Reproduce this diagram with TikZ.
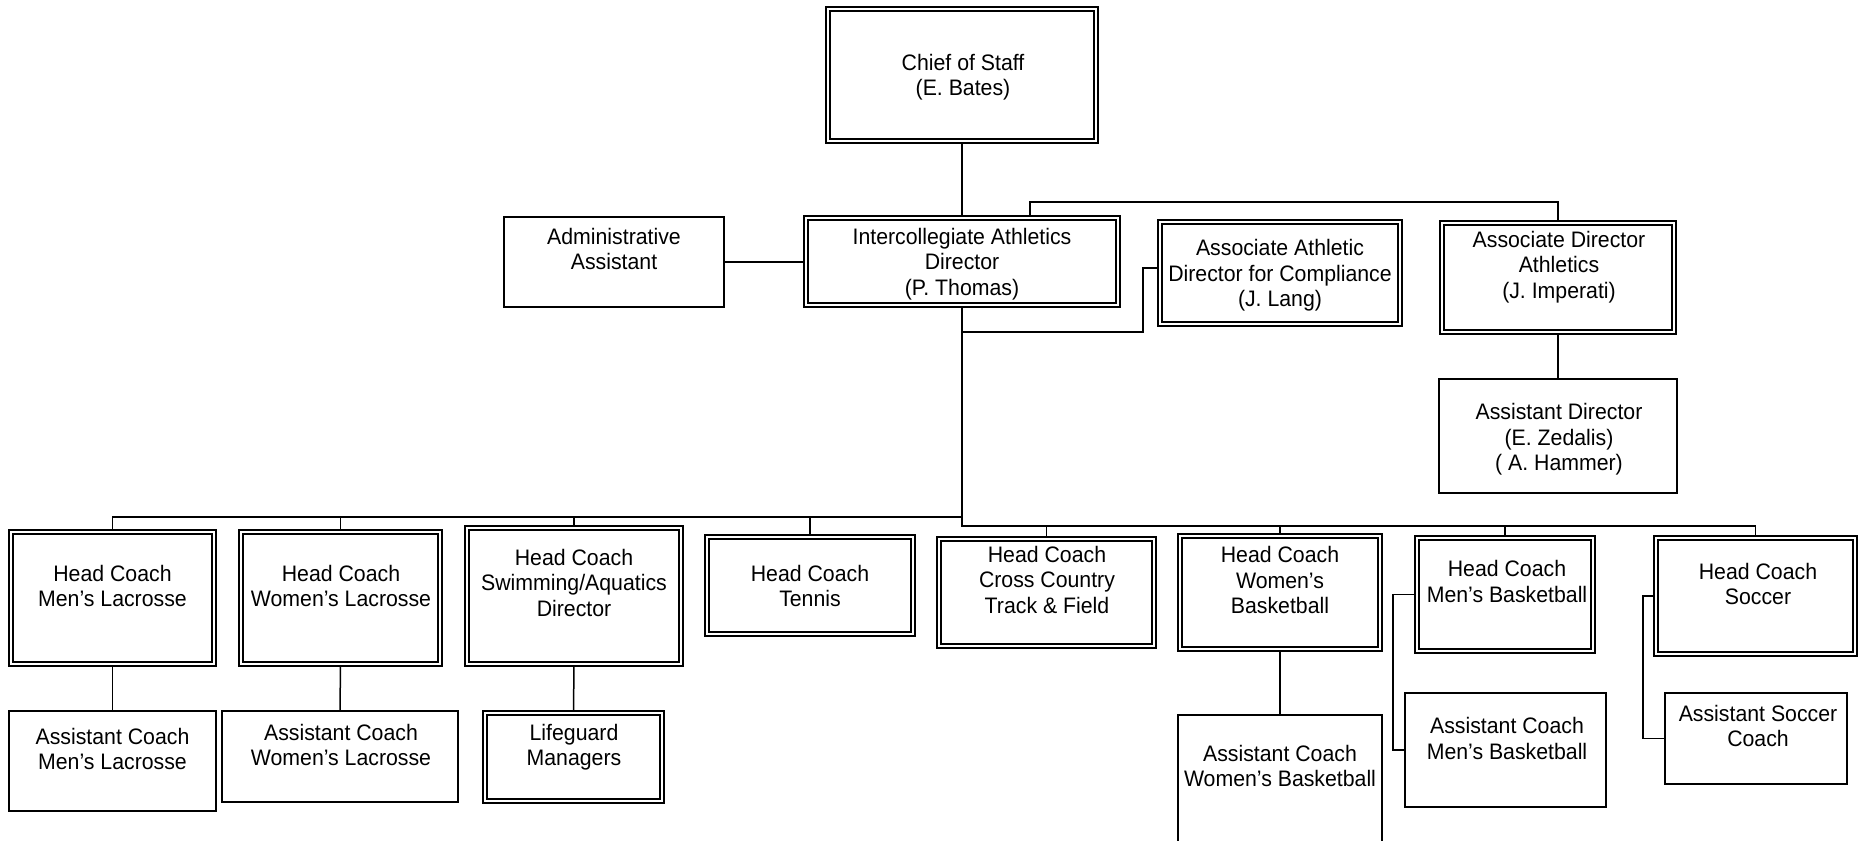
\documentclass[tikz,border=0pt]{standalone}
\usepackage{fontspec}
\setmainfont{Liberation Sans}[FakeStretch=0.95]
\usetikzlibrary{backgrounds}
\lineskiplimit=-\maxdimen
\newcommand\st{\rule[-3pt]{0pt}{14pt}}
\newcommand\dblbx[5]{\node[dblbox, minimum width={(#4-#2-4)*0.5pt}, minimum height={(#5-#3-4)*0.5pt}] (#1) at ({(#2+#4)/2},{(#3+#5)/2}) {};}
\newcommand\sglbx[5]{\node[sglbox, minimum width={(#4-#2)*0.5pt}, minimum height={(#5-#3)*0.5pt}] (#1) at ({(#2+#4)/2},{(#3+#5)/2}) {};}
\newcommand\boxtext[4]{\node[lbl] (#1) at (#2,#3) {#4};}
\begin{document}
\begin{tikzpicture}[x=0.5pt,y=-0.5pt,
  dblbox/.style={draw, double, double distance=1.4pt, line width=0.6pt, inner sep=0pt, outer sep=0pt, rectangle},
  sglbox/.style={draw, line width=0.75pt, inner sep=0pt, outer sep=0pt, rectangle},
  lbl/.style={align=center, inner sep=0pt, font=\fontsize{11.2pt}{12.75pt}\selectfont},
  conn/.style={line width=0.75pt}]
\clip (0,0) rectangle (1860,841);
% boxes
\dblbx{chief}{826}{7}{1098}{143}
\sglbx{admin}{504}{217}{724}{307}
\dblbx{iad}{804}{216}{1120}{307}
\dblbx{comp}{1158}{220}{1402}{326}
\dblbx{ada}{1440}{221}{1676}{334}
\sglbx{asd}{1439}{379}{1677}{493}
\dblbx{hcml}{9}{530}{216}{666}
\sglbx{acml}{9}{711}{216}{811}
\dblbx{hcwl}{239}{530}{442}{666}
\sglbx{acwl}{222}{711}{458}{802}
\dblbx{hcsw}{465}{526}{683}{666}
\dblbx{lg}{483}{711}{664}{803}
\dblbx{hct}{705}{535}{915}{636}
\dblbx{hccc}{937}{537}{1156}{648}
\dblbx{hcwb}{1178}{534}{1382}{651}
\sglbx{acwb}{1178}{715}{1382}{900}
\dblbx{hcmb}{1415}{536}{1595}{653}
\sglbx{acmb}{1405}{693}{1606}{807}
\dblbx{hcs}{1654}{536}{1857}{656}
\sglbx{acs}{1665}{693}{1847}{784}
% texts
\boxtext{chief-t}{963}{75}{Chief of Staff\st\\(E. Bates)\st}
\boxtext{admin-t}{614}{249}{Administrative\st\\Assistant\st}
\boxtext{iad-t}{962}{261.5}{Intercollegiate Athletics\st\\Director\st\\(P. Thomas)\st}
\boxtext{comp-t}{1280}{273}{Associate Athletic\st\\Director for Compliance\st\\(J. Lang)\st}
\boxtext{ada-t}{1559}{264.5}{Associate Director\st\\Athletics\st\\(J. Imperati)\st}
\boxtext{asd-t}{1559}{437}{Assistant Director\st\\(E. Zedalis)\st\\( A. Hammer)\st}
\boxtext{hcml-t}{112.5}{586}{Head Coach\st\\Men’s Lacrosse\st}
\boxtext{acml-t}{112.5}{749}{Assistant Coach\st\\Men’s Lacrosse\st}
\boxtext{hcwl-t}{341}{586}{Head Coach\st\\Women’s Lacrosse\st}
\boxtext{acwl-t}{341}{745}{Assistant Coach\st\\Women’s Lacrosse\st}
\boxtext{hcsw-t}{574}{582.5}{Head Coach\st\\Swimming/Aquatics\st\\Director\st}
\boxtext{lg-t}{574}{745}{Lifeguard\st\\Managers\st}
\boxtext{hct-t}{810}{586}{Head Coach\st\\Tennis\st}
\boxtext{hccc-t}{1047}{579.5}{Head Coach\st\\Cross Country\st\\Track \& Field\st}
\boxtext{hcwb-t}{1280}{580}{Head Coach\st\\Women’s\st\\Basketball\st}
\boxtext{acwb-t}{1280}{766}{Assistant Coach\st\\Women’s Basketball\st}
\boxtext{hcmb-t}{1507}{581.5}{Head Coach\st\\Men’s Basketball\st}
\boxtext{acmb-t}{1507}{738.5}{Assistant Coach\st\\Men’s Basketball\st}
\boxtext{hcs-t}{1758}{584}{Head Coach\st\\Soccer\st}
\boxtext{acs-t}{1758}{726}{Assistant Soccer\st\\Coach\st}
% helper coordinates
\coordinate (t1) at (1030,202);
\coordinate (cb) at (1143,332);
\coordinate (cc) at (1143,268);
\coordinate (lb) at (0,517);
\coordinate (rb) at (0,526);
\coordinate (mbx) at (1393,0);
\coordinate (scx) at (1643,0);
% connectors
\begin{pgfonlayer}{background}
\draw[conn] (chief.south) -- (iad.north);
\draw[conn] (admin.east) -- (admin.east -| iad.west);
\draw[conn] (iad.north -| t1) -- (t1) -| (ada.north);
\draw[conn] (ada.south) -- (asd.north);
\draw[conn] (iad.south |- cb) -- (cb) -- (cc) -- (cc -| comp.west);
\draw[conn] (iad.south) -- (iad.south |- rb) -| (hcs.north);
\draw[conn] (hcml.north) |- (lb -| iad.south);
\draw[conn] (hcwl.north) -- (hcwl.north |- lb);
\draw[conn] (hcsw.north) -- (hcsw.north |- lb);
\draw[conn] (hct.north) -- (hct.north |- lb);
\draw[conn] (hccc.north) -- (hccc.north |- rb);
\draw[conn] (hcwb.north) -- (hcwb.north |- rb);
\draw[conn] (hcmb.north) -- (hcmb.north |- rb);
\draw[conn] (hcml.south) -- (acml.north);
\draw[conn] (hcwl.south) -- (acwl.north);
\draw[conn] (hcsw.south) -- (lg.north);
\draw[conn] (hcwb.south) -- (acwb.north);
\draw[conn] (hcmb.west) -- (hcmb.west -| mbx) |- (acmb.west);
\draw[conn] (hcs.west) -- (hcs.west -| scx) |- (acs.west);
\end{pgfonlayer}
\end{tikzpicture}
\end{document}
